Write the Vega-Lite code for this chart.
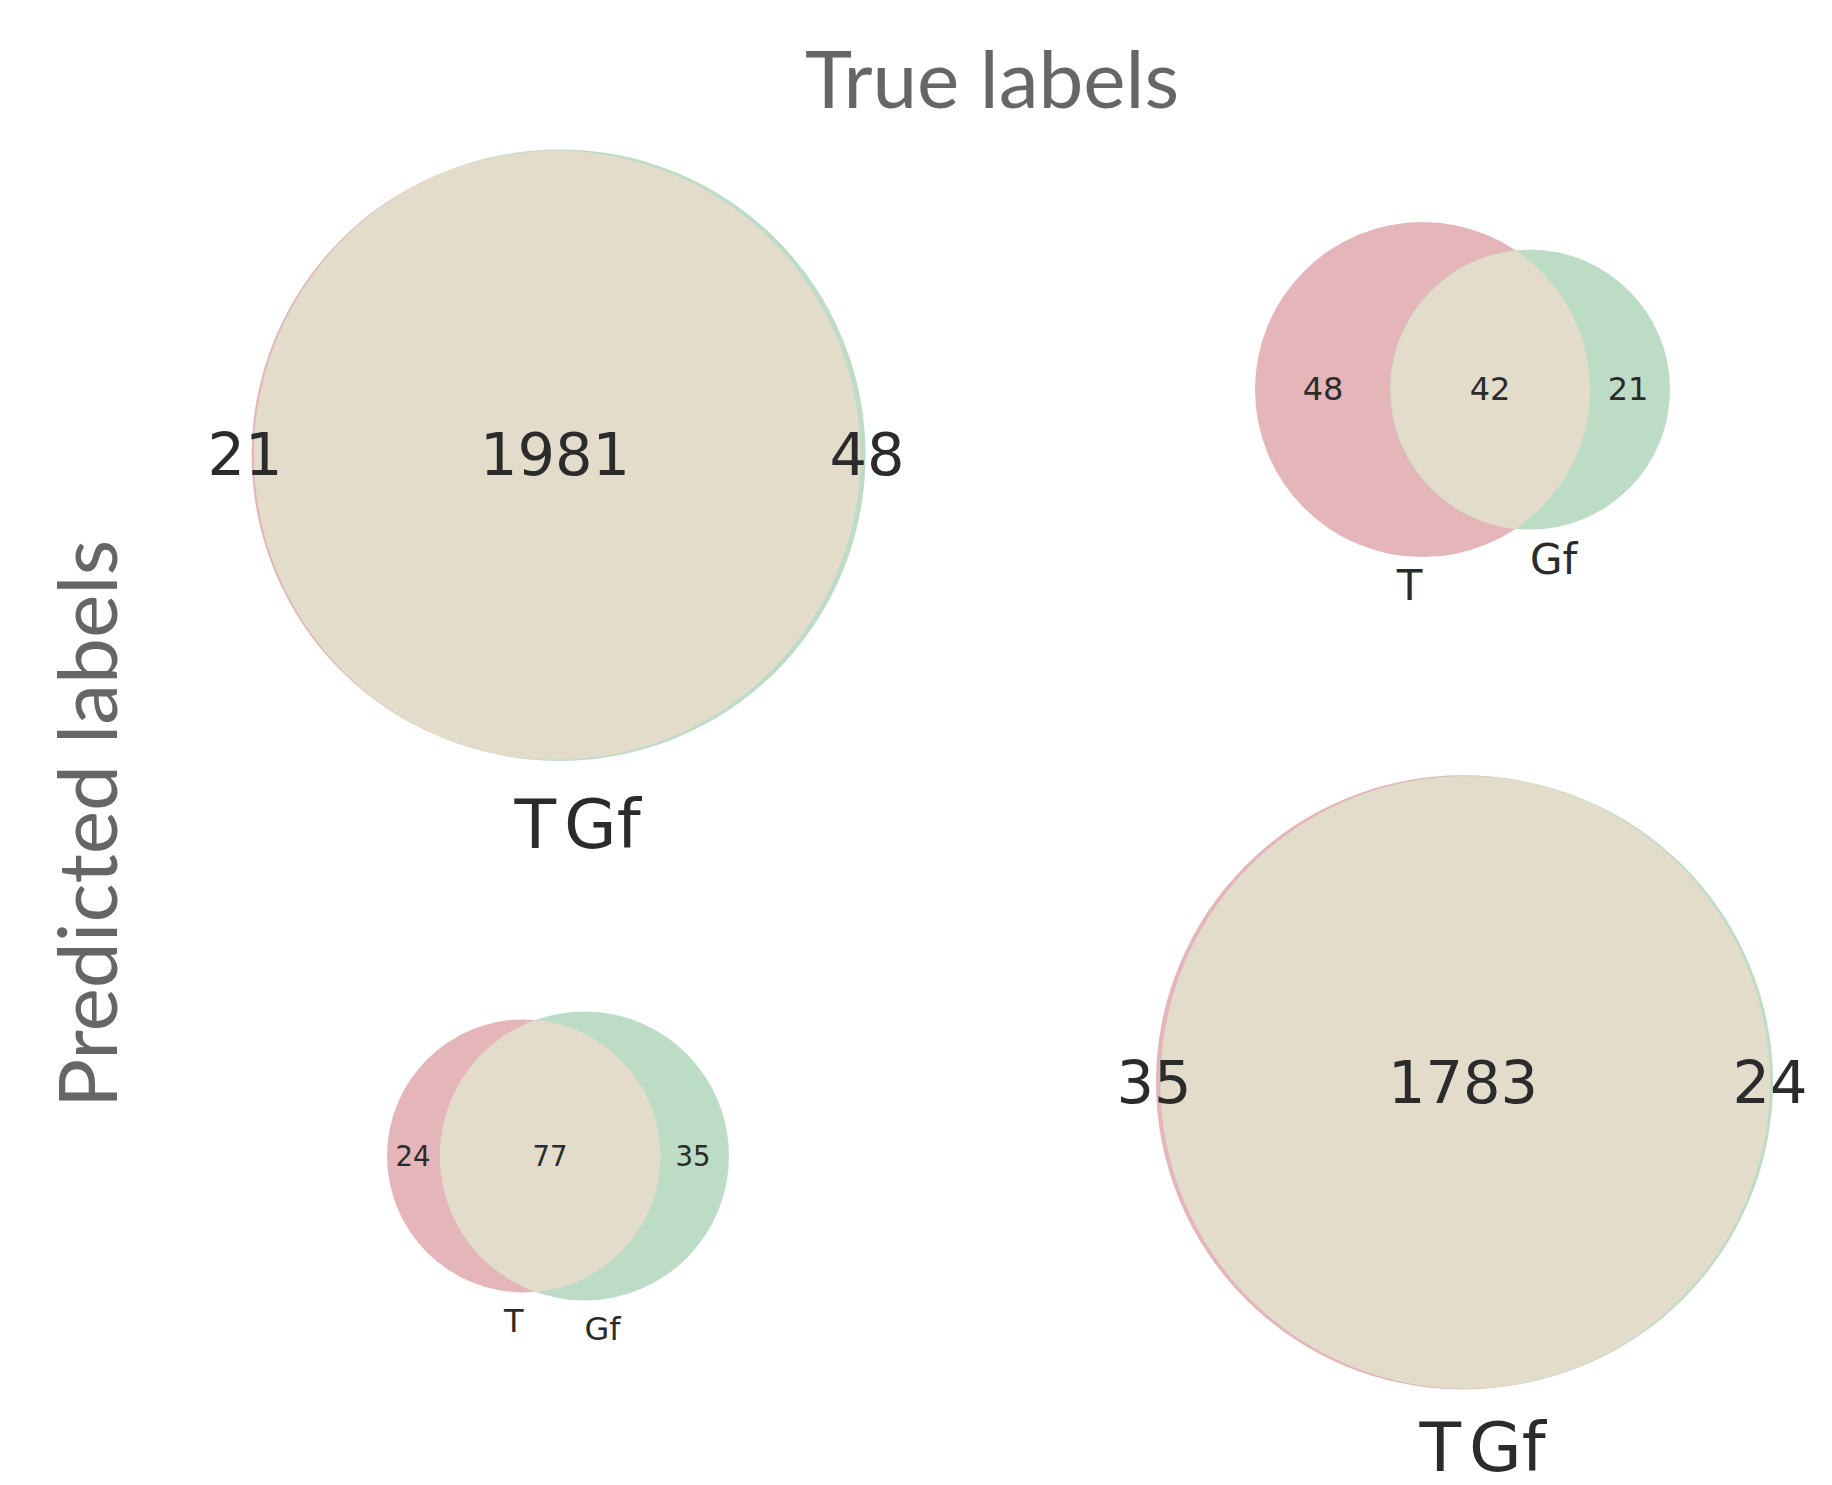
{
  "$schema": "https://vega.github.io/schema/vega-lite/v6.json",
  "width": 1832,
  "height": 1485,
  "autosize": {"type": "fit", "contains": "padding"},
  "padding": 0,
  "background": "white",
  "config": {"view": {"stroke": null}},
  "datasets": {
    "circles": [
      {"panel": "TL", "set": "T", "x": 55.61, "y": 45.8, "r": 30.45},
      {"panel": "TL", "set": "Gf", "x": 55.985, "y": 45.8, "r": 30.575},
      {"panel": "TR", "set": "T", "x": 142.25, "y": 39.2, "r": 16.75},
      {"panel": "TR", "set": "Gf", "x": 153.0, "y": 39.2, "r": 14.0},
      {"panel": "BL", "set": "T", "x": 52.35, "y": 116.3, "r": 13.65},
      {"panel": "BL", "set": "Gf", "x": 58.45, "y": 116.3, "r": 14.45},
      {"panel": "BR", "set": "T", "x": 146.3, "y": 108.9, "r": 30.7},
      {"panel": "BR", "set": "Gf", "x": 146.675, "y": 108.9, "r": 30.625}
    ],
    "lenses": [
      {"panel": "TL", "x": 45.627, "y": 45.8},
      {"panel": "TR", "x": 151.56, "y": 39.2},
      {"panel": "BL", "x": 53.56, "y": 116.3},
      {"panel": "BR", "x": 152.62, "y": 108.9}
    ],
    "subsets": [
      {"panel": "TL", "label": "21", "x": 24.5, "y": 47.8},
      {"panel": "TL", "label": "1981", "x": 55.5, "y": 47.8},
      {"panel": "TL", "label": "48", "x": 86.7, "y": 47.8},
      {"panel": "TR", "label": "48", "x": 132.3, "y": 40.2},
      {"panel": "TR", "label": "42", "x": 149.0, "y": 40.2},
      {"panel": "TR", "label": "21", "x": 162.8, "y": 40.2},
      {"panel": "BL", "label": "24", "x": 41.3, "y": 117.3},
      {"panel": "BL", "label": "77", "x": 55.0, "y": 117.3},
      {"panel": "BL", "label": "35", "x": 69.3, "y": 117.3},
      {"panel": "BR", "label": "35", "x": 115.4, "y": 111.0},
      {"panel": "BR", "label": "1783", "x": 146.3, "y": 111.0},
      {"panel": "BR", "label": "24", "x": 177.0, "y": 111.0}
    ],
    "setlabels": [
      {"panel": "TL", "set": "T", "x": 55.6, "y": 85.3},
      {"panel": "TL", "set": "Gf", "x": 56.4, "y": 85.3},
      {"panel": "TR", "set": "T", "x": 142.25, "y": 60.4},
      {"panel": "TR", "set": "Gf", "x": 153.0, "y": 57.7},
      {"panel": "BL", "set": "T", "x": 52.35, "y": 134.0},
      {"panel": "BL", "set": "Gf", "x": 58.45, "y": 134.8},
      {"panel": "BR", "set": "T", "x": 146.1, "y": 148.0},
      {"panel": "BR", "set": "Gf", "x": 146.9, "y": 148.0}
    ],
    "toptitle": [{"text": "True labels", "x": 99.2, "y": 10.9}],
    "sidetitle": [{"text": "Predicted labels", "x": 11.7, "y": 82.9}]
  },
  "encoding": {
    "x": {"field": "x", "type": "quantitative", "scale": {"domain": [0, 183.2], "nice": false, "zero": false}, "axis": null},
    "y": {"field": "y", "type": "quantitative", "scale": {"domain": [0, 148.5], "nice": false, "zero": false, "reverse": true}, "axis": null}
  },
  "layer": [
    {
      "data": {"name": "circles"},
      "mark": {"type": "point", "shape": "circle", "filled": true, "opacity": 1, "strokeWidth": 0},
      "encoding": {
        "color": {"field": "set", "type": "nominal", "scale": {"domain": ["T", "Gf"], "range": ["#e5b6b9", "#bddcc5"]}, "legend": null},
        "size": {"field": "r", "type": "quantitative", "scale": {"type": "pow", "exponent": 2, "domain": [0, 10], "range": [0, 40000]}, "legend": null}
      }
    },
    {
      "data": {"name": "lenses"},
      "transform": [{"filter": "datum.panel === 'TL'"}],
      "mark": {"type": "point", "shape": "M0,-287.7A304.5,304.5,0,1,1,0,287.7A305.75,305.75,0,0,1,0,-287.7Z", "size": 4, "filled": true, "opacity": 1, "color": "#e4dccb", "strokeWidth": 0}
    },
    {
      "data": {"name": "lenses"},
      "transform": [{"filter": "datum.panel === 'TR'"}],
      "mark": {"type": "point", "shape": "M0,-139.2A167.5,167.5,0,0,1,0,139.2A140,140,0,0,1,0,-139.2Z", "size": 4, "filled": true, "opacity": 1, "color": "#e4dccb", "strokeWidth": 0}
    },
    {
      "data": {"name": "lenses"},
      "transform": [{"filter": "datum.panel === 'BL'"}],
      "mark": {"type": "point", "shape": "M0,-136A136.5,136.5,0,0,1,0,136A144.5,144.5,0,0,1,0,-136Z", "size": 4, "filled": true, "opacity": 1, "color": "#e4dccb", "strokeWidth": 0}
    },
    {
      "data": {"name": "lenses"},
      "transform": [{"filter": "datum.panel === 'BR'"}],
      "mark": {"type": "point", "shape": "M0,-300.4A307,307,0,0,1,0,300.4A306.25,306.25,0,1,1,0,-300.4Z", "size": 4, "filled": true, "opacity": 1, "color": "#e4dccb", "strokeWidth": 0}
    },
    {
      "data": {"name": "subsets"},
      "mark": {"type": "text", "font": "DejaVu Sans", "color": "#2b2b2b", "align": "center", "baseline": "alphabetic",
               "fontSize": {"expr": "datum.panel === 'TR' ? 32 : datum.panel === 'BL' ? 27.5 : 59"}},
      "encoding": {"text": {"field": "label", "type": "nominal"}}
    },
    {
      "data": {"name": "setlabels"},
      "mark": {"type": "text", "font": "DejaVu Sans", "color": "#2b2b2b", "baseline": "alphabetic",
               "align": {"expr": "datum.set === 'T' ? 'right' : 'left'"},
               "fontSize": {"expr": "datum.panel === 'TR' ? 42 : datum.panel === 'BL' ? 32 : 68"}},
      "encoding": {"text": {"field": "set", "type": "nominal"}}
    },
    {
      "data": {"name": "toptitle"},
      "mark": {"type": "text", "font": "Lato", "fontSize": 80, "color": "#666666", "align": "center", "baseline": "alphabetic"},
      "encoding": {"text": {"field": "text", "type": "nominal"}}
    },
    {
      "data": {"name": "sidetitle"},
      "mark": {"type": "text", "font": "Lato", "fontSize": 82, "color": "#666666", "align": "center", "baseline": "alphabetic", "angle": 270},
      "encoding": {"text": {"field": "text", "type": "nominal"}}
    }
  ]
}
